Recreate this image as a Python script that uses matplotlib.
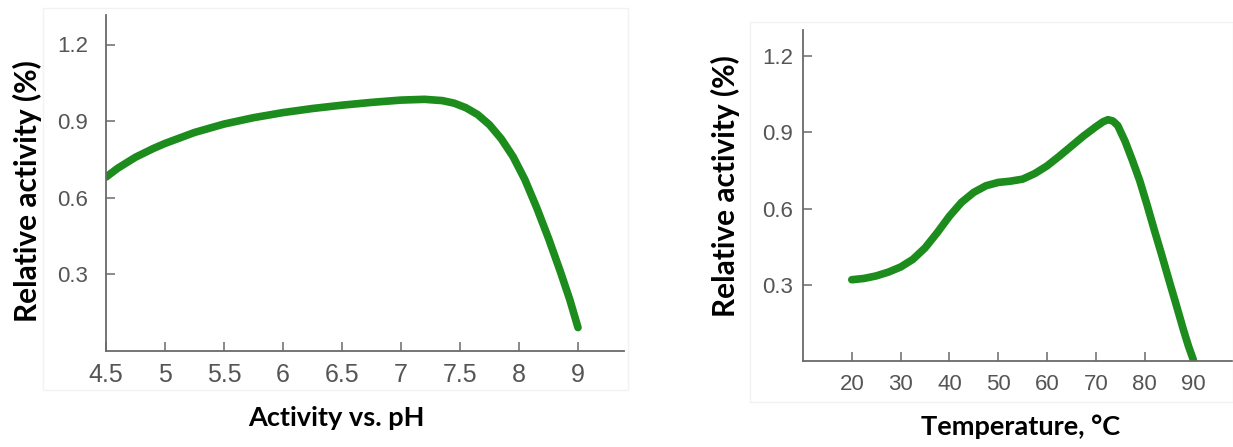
import matplotlib
matplotlib.use("Agg")
import matplotlib.pyplot as plt
from matplotlib.patches import Rectangle

# ------------------------------------------------------------------
#     values
# ------------------------------------------------------------------

# pH panel: the axis is evenly ticked, last tick is labelled "9"
ph_ticks = [4.5, 5.0, 5.5, 6.0, 6.5, 7.0, 7.5, 8.0, 8.5]
ph_ticklabels = ["4.5", "5", "5.5", "6", "6.5", "7", "7.5", "8", "9"]
ph_pos = [4.5, 4.6, 4.75, 4.9, 5.0, 5.25, 5.5, 5.75, 6.0, 6.25, 6.5, 6.75, 7.0,
          7.2, 7.35, 7.45, 7.55, 7.65, 7.75, 7.85, 7.95, 8.05, 8.15, 8.25, 8.35,
          8.43, 8.5]
ph_act = [0.68, 0.715, 0.758, 0.792, 0.812, 0.855, 0.888, 0.913, 0.933, 0.949, 0.962,
          0.973, 0.982, 0.985, 0.98, 0.97, 0.952, 0.925, 0.885, 0.83, 0.76, 0.67,
          0.56, 0.44, 0.31, 0.2, 0.09]

# temperature panel
temp_ticks = [20, 30, 40, 50, 60, 70, 80, 90]
temp = [20, 22.5, 25, 27.5, 30, 32.5, 35, 37.5, 40, 42.5, 45, 47.5, 50, 52.5, 55,
        57.5, 60, 62.5, 65, 67.5, 70, 71.5, 72.5, 73.5, 74.5, 76, 77.5, 79, 80.5,
        82, 83.5, 85, 86.5, 88, 89, 90]
temp_act = [0.32, 0.325, 0.335, 0.35, 0.37, 0.4, 0.445, 0.505, 0.57, 0.625, 0.664,
            0.69, 0.703, 0.708, 0.716, 0.738, 0.768, 0.806, 0.846, 0.886, 0.922, 0.942,
            0.95, 0.945, 0.927, 0.865, 0.79, 0.71, 0.615, 0.515, 0.418, 0.318, 0.22,
            0.12, 0.058, 0.004]

y_ticks = [0.3, 0.6, 0.9, 1.2]
y_ticklabels = ["0.3", "0.6", "0.9", "1.2"]

GREEN = "#1c8c1c"
AXIS_GREY = "#6a6a6a"
TICK_GREY = "#555555"
W, H = 1233, 447

plt.rcParams["font.family"] = ["Liberation Sans", "DejaVu Sans"]


def style_axis(ax, tick_size_x, tick_size_y, pad_x, pad_y):
    for side in ["top", "right"]:
        ax.spines[side].set_visible(False)
    for side in ["left", "bottom"]:
        ax.spines[side].set_color(AXIS_GREY)
        ax.spines[side].set_linewidth(1.3)
    ax.tick_params(axis="x", direction="in", length=6.5, width=1.1, color=AXIS_GREY,
                   labelsize=tick_size_x, labelcolor=TICK_GREY, pad=pad_x)
    ax.tick_params(axis="y", direction="in", length=6.5, width=1.1, color=AXIS_GREY,
                   labelsize=tick_size_y, labelcolor=TICK_GREY, pad=pad_y)


fig = plt.figure(figsize=(W / 100, H / 100), dpi=100)

# faint frames of the two pasted pictures
fig.patches.append(Rectangle((43 / W, 1 - 390 / H), 585 / W, 382 / H, transform=fig.transFigure,
                             fill=False, edgecolor="#f2f2f2", linewidth=1))
fig.patches.append(Rectangle((750 / W, 1 - 402 / H), 483 / W, 380 / H, transform=fig.transFigure,
                             fill=False, edgecolor="#f2f2f2", linewidth=1))

# ---------------------------- pH panel ----------------------------
ax1 = fig.add_axes([106 / W, (H - 350.5) / H, 518 / W, 335.5 / H])
ax1.plot(ph_pos, ph_act, color=GREEN, linewidth=5.5, solid_capstyle="round",
         solid_joinstyle="round")
ax1.set_xlim(4.5, 4.5 + 518 / 118)
ax1.set_ylim(0, 335.5 / 255)
ax1.set_xticks(ph_ticks)
ax1.set_xticklabels(ph_ticklabels)
ax1.set_yticks(y_ticks)
ax1.set_yticklabels(y_ticklabels)
style_axis(ax1, 18, 16, 9, 13)

# ------------------------- temperature panel -----------------------
ax2 = fig.add_axes([803 / W, (H - 361) / H, 430 / W, 331 / H])
ax2.plot(temp, temp_act, color=GREEN, linewidth=5.5, solid_capstyle="round",
         solid_joinstyle="round")
ax2.set_xlim(10, 10 + 430 / 4.88)
ax2.set_ylim(0, 331 / 254)
ax2.set_xticks(temp_ticks)
ax2.set_xticklabels([str(t) for t in temp_ticks])
ax2.set_yticks(y_ticks)
ax2.set_yticklabels(y_ticklabels)
style_axis(ax2, 16, 16, 9, 7)

# axis titles
label_font = dict(family=["Lato", "DejaVu Sans"], fontweight="bold", color="black")
fig.text(27 / W, 1 - 191 / H, "Relative activity (%)", rotation=90, ha="center",
         va="center", fontsize=21.5, **label_font)
fig.text(725 / W, 1 - 186 / H, "Relative activity (%)", rotation=90, ha="center",
         va="center", fontsize=21.5, **label_font)
fig.text(336 / W, 1 - 418 / H, "Activity vs. pH", ha="center", va="center",
         fontsize=19.5, **label_font)
fig.text(1021 / W, 1 - 427 / H, "Temperature, \u00b0C", ha="center", va="center",
         fontsize=19.5, **label_font)

fig.savefig("out.png", dpi=100)
